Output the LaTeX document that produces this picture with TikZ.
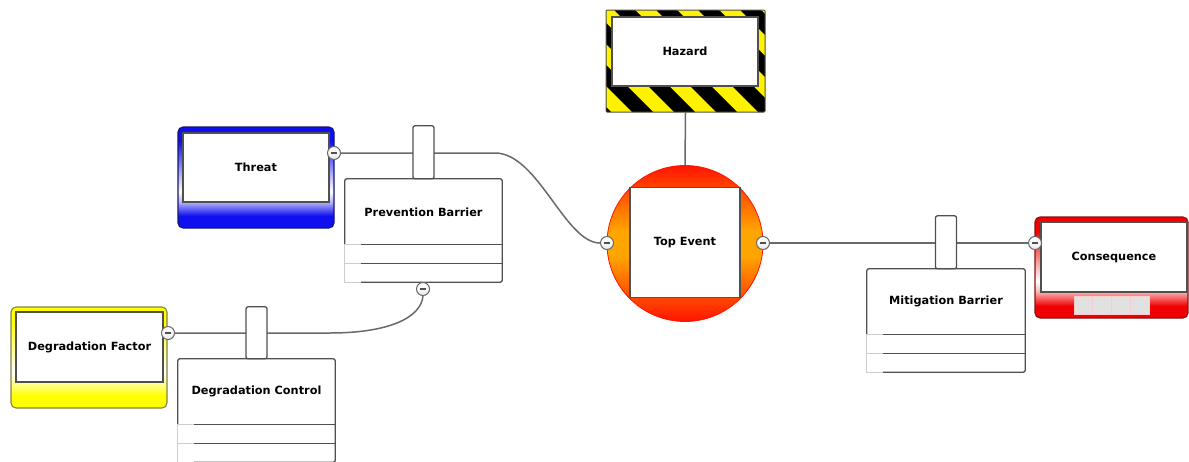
\documentclass[tikz,border=0pt]{standalone}
\usepackage{fontspec}
\setmainfont{DejaVu Sans}
\usetikzlibrary{calc}

% palette
\definecolor{linec}{RGB}{105,105,105}
\definecolor{boxc}{RGB}{80,80,80}
\definecolor{lightc}{RGB}{205,205,205}
\definecolor{thblue}{RGB}{15,15,240}
\definecolor{thborder}{RGB}{20,20,110}
\definecolor{dfyellow}{RGB}{255,255,0}
\definecolor{dfborder}{RGB}{130,130,70}
\definecolor{csred}{RGB}{240,0,0}
\definecolor{csborder}{RGB}{130,20,20}
\definecolor{evred}{RGB}{255,20,0}
\definecolor{evorange}{RGB}{255,165,0}
\definecolor{hzyellow}{RGB}{255,242,0}
\definecolor{minusfill}{RGB}{235,235,235}
\definecolor{cellgray}{RGB}{225,225,225}

\colorlet{thblueA}{thblue!35!white}
\colorlet{thblueB}{thblue!30!white}
\colorlet{dfyellowA}{dfyellow!35!white}
\colorlet{dfyellowB}{dfyellow!35!white}
\colorlet{csredA}{csred!35!white}
\colorlet{csredB}{csred!30!white}

% frame shadings: strong at the top edge, pale towards the foot of the
% inner box, then back to full colour along the bottom band
\pgfdeclareverticalshading{threatshade}{100bp}{color(0bp)=(thblue); color(25bp)=(thblue); color(31bp)=(thblue);
  color(38bp)=(thblueB); color(43bp)=(white); color(52bp)=(thblueA); color(68bp)=(thblue); color(100bp)=(thblue)}
\pgfdeclareverticalshading{factorshade}{100bp}{color(0bp)=(dfyellow); color(25bp)=(dfyellow); color(31bp)=(dfyellow);
  color(38bp)=(dfyellowB); color(43bp)=(white); color(52bp)=(dfyellowA); color(68bp)=(dfyellow); color(100bp)=(dfyellow)}
\pgfdeclareverticalshading{consshade}{100bp}{color(0bp)=(csred); color(25bp)=(csred); color(31bp)=(csred);
  color(38bp)=(csredB); color(43bp)=(white); color(52bp)=(csredA); color(68bp)=(csred); color(100bp)=(csred)}
% top event: red rim above and below, orange band across the middle
\pgfdeclareverticalshading{eventshade}{100bp}{color(0bp)=(evred); color(25bp)=(evred);
  color(46bp)=(evorange); color(54bp)=(evorange); color(75bp)=(evred); color(100bp)=(evred)}

\tikzset{
  lbl/.style={font=\bfseries\fontsize{11.3pt}{13pt}\selectfont, text=black, inner sep=0pt},
  conn/.style={draw=linec, line width=1.5pt},
  frame/.style={rounded corners=5pt, line width=1.1pt, inner sep=0pt},
  innerbox/.style={draw=boxc, fill=white, line width=1.3pt, inner sep=0pt, lbl},
  barrierbox/.style={fill=white, inner sep=0pt, minimum width=157pt, minimum height=103pt},
  tabbox/.style={draw=boxc, fill=white, line width=1.3pt, rounded corners=2pt, inner sep=0pt,
    minimum width=21pt, minimum height=53pt},
  boxline/.style={draw=boxc, line width=1.3pt},
  lightline/.style={draw=lightc, line width=1.3pt},
  minusnode/.style={circle, draw=linec, line width=1pt, top color=white, bottom color=minusfill,
    minimum size=13pt, inner sep=0pt,
    path picture={\draw[boxc, line width=1.4pt]
      ($(path picture bounding box.west)+(3.5pt,0pt)$) -- ($(path picture bounding box.east)+(-3.5pt,0pt)$);}},
  hazardframe/.style={draw=boxc, line width=1pt, fill=hzyellow, inner sep=0pt, rounded corners=1pt,
    path picture={\foreach \i in {-4,...,5}{
      \fill[black] ($(path picture bounding box.north west)+(\i*42pt+8pt,0pt)$) -- ++(21pt,0pt)
        -- ++(110pt,-110pt) -- ++(-21pt,0pt) -- cycle;}}},
  eventcircle/.style={circle, draw=evred, line width=0.8pt, shading=eventshade,
    minimum size=156pt, inner sep=0pt},
}

% outline of a barrier box: dark title part, lighter left edge on the rows
\newcommand\barrierparts[1]{%
  \draw[boxline, rounded corners=2pt] ($(#1.south west)+(0,-38)$) -- (#1.north west) -- (#1.north east)
    -- (#1.south east) -- ($(#1.south west)+(16,0)$);
  \draw[lightline] ($(#1.south west)+(16,0)$) -- (#1.south west) -- ($(#1.south west)+(0,-38)$);
  \draw[boxline] ($(#1.south west)+(16,-38)$) -- ($(#1.south east)+(0,-38)$);
  \draw[boxline] ($(#1.south west)+(16,-19)$) -- ($(#1.south east)+(0,-19)$);
  \draw[lightline] ($(#1.south west)+(0,-38)$) -- ($(#1.south west)+(16,-38)$);
  \draw[lightline] ($(#1.south west)+(0,-19)$) -- ($(#1.south west)+(16,-19)$);
}

\begin{document}
\begin{tikzpicture}[x=1pt,y=-1pt]
\useasboundingbox (0,0) rectangle (1189,461);

% hazard
\node[hazardframe, minimum width=159pt, minimum height=102pt] (hazframe) at (685.5,61) {};
\node[innerbox, minimum width=146pt, minimum height=69pt] (hazard) at (685,51.5) {Hazard};

% top event
\node[eventcircle] (topc) at (685,243.5) {};
\node[innerbox, minimum size=110pt] (top) at (685,242.5) {Top Event};

% threat
\node[frame, draw=thborder, shading=threatshade, minimum width=156pt, minimum height=101pt] (thframe) at (256,177.5) {};
\node[innerbox, minimum width=146pt, minimum height=69pt] (threat) at (256,167.5) {Threat};

% degradation factor
\node[frame, draw=dfborder, shading=factorshade, minimum width=156pt, minimum height=101pt] (dfframe) at (89,357.5) {};
\node[innerbox, minimum width=147pt, minimum height=70pt] (factor) at (89.5,347) {Degradation Factor};

% consequence
\node[frame, draw=csborder, shading=consshade, minimum width=153pt, minimum height=101pt] (csframe) at (1111.5,267.5) {};
\node[innerbox, minimum width=146pt, minimum height=70pt] (cons) at (1114,257) {Consequence};
\foreach \k in {0,...,3}
  \filldraw[fill=cellgray, draw=white!80!csred, line width=0.8pt] (1074+\k*18.75,296) rectangle ++(18.75,18);

% barriers
\node[barrierbox] (pb) at (423.5,230.5) {};
\barrierparts{pb}
\node[lbl] (pbt) at ($(pb.north)+(0,33)$) {Prevention Barrier};

\node[barrierbox, minimum width=158pt] (mb) at (946,320.5) {};
\barrierparts{mb}
\node[lbl] (mbt) at ($(mb.north)+(0,33)$) {Mitigation Barrier};

\node[barrierbox] (dc) at (256.5,410.5) {};
\barrierparts{dc}
\node[lbl] (dct) at ($(dc.north)+(0,33)$) {Degradation Control};

% collapse handles
\node[minusnode] (thm) at (334,153) {};
\node[minusnode] (tel) at (607,243) {};
\node[minusnode] (ter) at (763,243) {};
\node[minusnode] (csm) at (1035,243) {};
\node[minusnode] (dfm) at (168,333) {};
\node[minusnode] (pbm) at (423,289) {};

% connectors
\draw[conn] (hazframe.south) -- (topc.north);
\draw[conn] (thm.east) -- (495,153) .. controls (538,153) and (565,243) .. (tel.west);
\draw[conn] (ter.east) -- (csm.west);
\draw[conn] (dfm.east) -- (330,333) .. controls (388,333) and (421,318) .. (pbm.south);

% barrier tabs sit over the lines
\node[tabbox] (pbtab) at ($(pb.north)+(0,-26.5)$) {};
\node[tabbox] (mbtab) at ($(mb.north)+(0,-26.5)$) {};
\node[tabbox, minimum height=52pt] (dctab) at ($(dc.north)+(0,-26)$) {};
\end{tikzpicture}
\end{document}
